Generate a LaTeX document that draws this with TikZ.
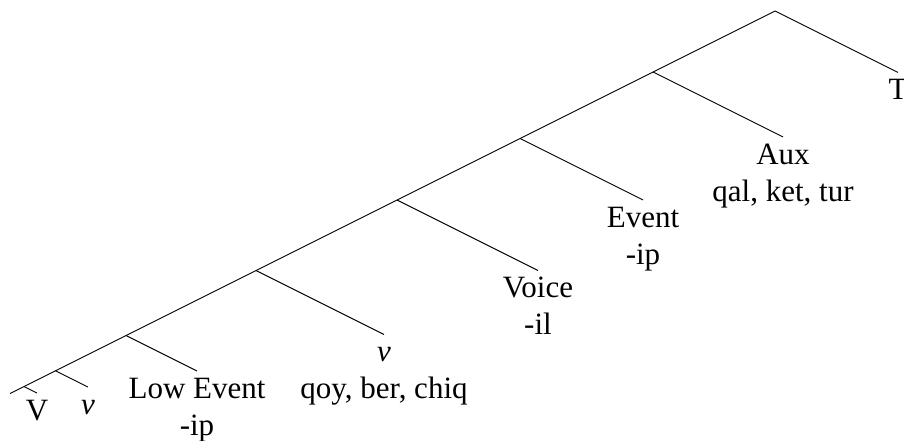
\documentclass[tikz,border=0pt]{standalone}
\usepackage{fontspec}
\setmainfont{Liberation Serif}
\usepackage{tikz}
\tikzset{
	branch/.style={line width=0.9pt},%
	leaf/.style={anchor=north,inner sep=0pt,align=center,font=\treefont},%
}
\newcommand{\treefont}{\fontsize{31}{37}\selectfont}
\newcommand{\leafstrut}{\rule{0pt}{27pt}}

\begin{document}
\begin{tikzpicture}[%
		x=1pt,y=-1pt,%
		]
		\useasboundingbox (0,0) rectangle (904,441);
		% points on the spine
		\coordinate (TP) at (775,11);
		\coordinate (AuxP) at (653,72);
		\coordinate (EventP) at (520,138.5);
		\coordinate (VoiceP) at (397,200);
		\coordinate (vP) at (256,270.5);
		\coordinate (LowP) at (126,335.5);
		\coordinate (vvP) at (55.5,370.75);
		\coordinate (VP) at (24,386.5);
		\coordinate (VE) at (10,393.5);
		\draw[branch] (TP) -- (AuxP) -- (EventP) -- (VoiceP) -- (vP) -- (LowP) -- (vvP) -- (VP) -- (VE);
		% leaves
		\node[leaf] (T) at (898,72.5) {\leafstrut T};
		\node[leaf] (Aux) at (783,137) {\leafstrut Aux\\qal, ket, tur};
		\node[leaf] (Event) at (643,200) {\leafstrut Event\\-ip};
		\node[leaf] (Voice) at (538,270.5) {\leafstrut Voice\\-il};
		\node[leaf] (v) at (384,334.5) {\leafstrut\textit{v}\\qoy, ber, chiq};
		\node[leaf] (LowEvent) at (197,371) {\leafstrut Low Event\\-ip};
		\node[leaf] (vv) at (88,387) {\leafstrut\textit{v}};
		\node[leaf] (V) at (37,393) {\leafstrut V};
		\draw[branch] (TP) -- (T.north);
		\draw[branch] (AuxP) -- (Aux.north);
		\draw[branch] (EventP) -- (Event.north);
		\draw[branch] (VoiceP) -- (Voice.north);
		\draw[branch] (vP) -- (v.north);
		\draw[branch] (LowP) -- (LowEvent.north);
		\draw[branch] (vvP) -- (vv.north);
		\draw[branch] (VP) -- (V.north);
	\end{tikzpicture}
\end{document}
